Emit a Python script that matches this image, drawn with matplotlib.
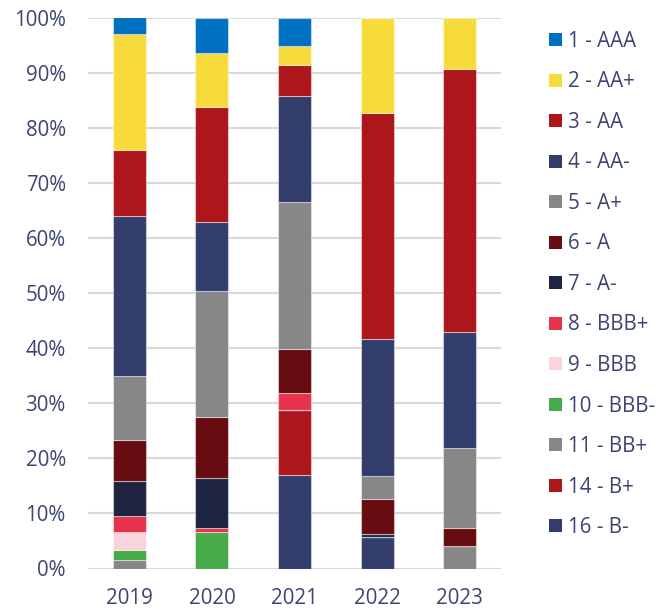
import matplotlib
matplotlib.use("Agg")
import matplotlib.pyplot as plt
from matplotlib.patches import Rectangle
import numpy as np

plt.rcParams['font.family'] = ['Open Sans', 'DejaVu Sans']

years = ["2019", "2020", "2021", "2022", "2023"]

# Rating classes, listed top (legend order) to bottom
ratings = ["1 - AAA", "2 - AA+", "3 - AA", "4 - AA-", "5 - A+", "6 - A", "7 - A-",
           "8 - BBB+", "9 - BBB", "10 - BBB-", "11 - BB+", "14 - B+", "16 - B-"]

# Share of each rating per year (%)
r1_aaa  = [3.0, 6.5, 5.2, 0.0, 0.0]
r2_aap  = [21.1, 9.7, 3.5, 17.4, 9.3]
r3_aa   = [12.0, 20.9, 5.6, 41.0, 47.7]
r4_aam  = [29.0, 12.5, 19.1, 24.9, 21.1]
r5_ap   = [11.6, 22.9, 26.8, 4.0, 14.6]
r6_a    = [7.5, 11.1, 8.0, 6.5, 3.3]
r7_am   = [6.3, 9.1, 0.0, 0.5, 0.0]
r8_bbbp = [2.9, 0.6, 3.1, 0.0, 0.0]
r9_bbb  = [3.2, 0.0, 0.0, 0.0, 0.0]
r10_bbbm = [1.8, 6.7, 0.0, 0.0, 0.0]
r11_bbp = [1.6, 0.0, 0.0, 0.0, 4.0]
r14_bp  = [0.0, 0.0, 11.8, 0.0, 0.0]
r16_bm  = [0.0, 0.0, 16.9, 5.7, 0.0]

series = [r1_aaa, r2_aap, r3_aa, r4_aam, r5_ap, r6_a, r7_am,
          r8_bbbp, r9_bbb, r10_bbbm, r11_bbp, r14_bp, r16_bm]

colors = ["#0070c0", "#f7db3c", "#ad161a", "#333d6b", "#878787", "#670c11", "#1f2441",
          "#e6334b", "#f8d5da", "#46ab48", "#878787", "#ad161a", "#333d6b"]

text_color = "#3b4472"
W, H = 669, 611

fig = plt.figure(figsize=(W / 100, H / 100), dpi=100)
ax = fig.add_axes([88 / W, 1 - 568.5 / H, 413 / W, 551 / H])

x = np.arange(len(years))
bottom = np.zeros(len(years))
# stack from the lowest rating upward
for vals, col in zip(series[::-1], colors[::-1]):
    v = np.array(vals)
    ax.bar(x, v, width=0.4, bottom=bottom, color=col,
           edgecolor=(1, 1, 1, 0.45), linewidth=0.8, zorder=3)
    bottom += v

ax.set_xlim(-0.5, len(years) - 0.5)
ax.set_ylim(0, 100)
ax.set_yticks(np.arange(0, 101, 10))
ax.set_yticklabels([f"{t}%" for t in range(0, 101, 10)])
ax.set_xticks(x)
ax.set_xticklabels(years)
ax.yaxis.grid(True, color="#d9d9d9", linewidth=1.5, zorder=0)
ax.set_axisbelow(True)
for s in ax.spines.values():
    s.set_visible(False)
ax.tick_params(axis="both", length=0, labelsize=14.8, colors=text_color)
ax.tick_params(axis="y", pad=16)
ax.tick_params(axis="x", pad=14)

# legend: colour squares with labels, stacked top to bottom
sq = 13
pitch = 40.54
for i, (lab, col) in enumerate(zip(ratings, colors)):
    cy = 39.5 + i * pitch
    fig.patches.append(Rectangle((549 / W, 1 - (cy + sq / 2) / H), sq / W, sq / H,
                                 facecolor=col, edgecolor="none",
                                 transform=fig.transFigure, figure=fig))
    fig.text(568 / W, 1 - (cy + 7.2) / H, lab, fontsize=14.8, color=text_color,
             ha="left", va="baseline")

fig.savefig("out.png", dpi=100)
